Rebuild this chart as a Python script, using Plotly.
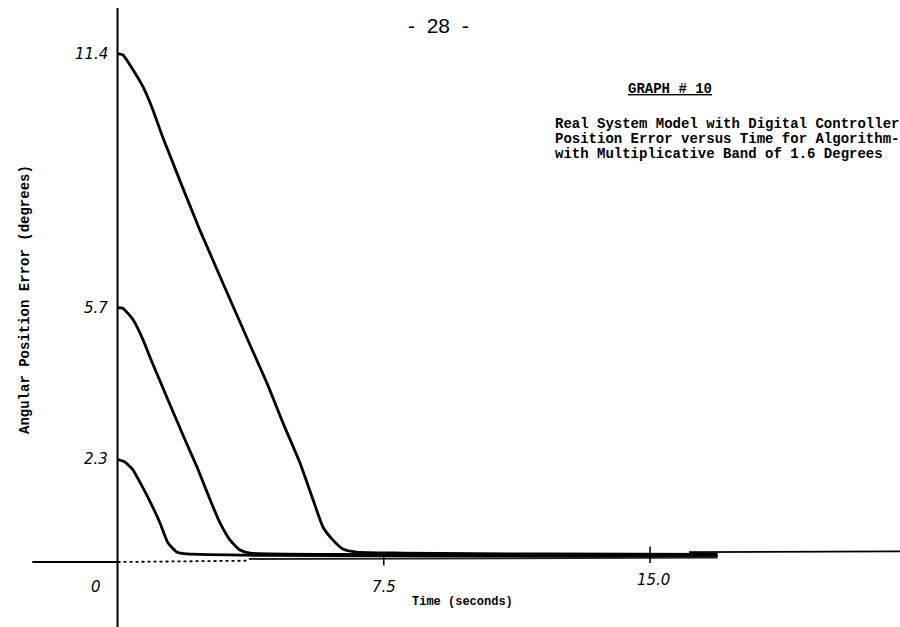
import plotly.graph_objects as go

# ---- data (time in seconds, error in degrees) ----
t_114 = [0.0, 0.15, 0.44, 0.72, 1.00, 1.28, 2.32, 3.73, 4.21, 4.66, 5.14, 5.51, 5.79, 6.07, 6.35, 6.73, 8.0, 12.0, 16.9]
e_114 = [11.4, 11.37, 11.03, 10.65, 10.13, 9.51, 7.44, 4.87, 4.01, 3.12, 2.22, 1.39, 0.78, 0.49, 0.29, 0.22, 0.20, 0.18, 0.17]

t_57 = [0.0, 0.15, 0.44, 0.72, 0.92, 1.90, 2.24, 2.61, 2.89, 3.17, 3.45, 3.73, 6.0, 10.0, 16.9]
e_57 = [5.7, 5.69, 5.43, 4.98, 4.58, 2.74, 2.13, 1.39, 0.87, 0.49, 0.27, 0.20, 0.17, 0.16, 0.15]

t_23 = [0.0, 0.21, 0.44, 0.63, 0.92, 1.20, 1.42, 1.68, 1.96, 4.0, 10.0, 16.9]
e_23 = [2.3, 2.24, 2.06, 1.79, 1.35, 0.87, 0.43, 0.22, 0.18, 0.15, 0.14, 0.13]

x_tick_vals = [0, 7.5, 15.0]
x_tick_text = ["0", "7.5", "15.0"]
y_tick_vals = [11.4, 5.7, 2.3]
y_tick_text = ["11.4", "5.7", "2.3"]

page_number = "-  28  -"
graph_title = "GRAPH # 10"
subtitle_lines = [
    "Real System Model with Digital Controller",
    "Position Error versus Time for Algorithm-",
    "with Multiplicative Band of 1.6 Degrees",
]
x_title = "Time (seconds)"
y_title = "Angular Position Error (degrees)"

# ---- figure ----
X_RANGE = [-3.31, 22.04]
Y_RANGE = [-1.457, 12.60]

fig = go.Figure()
for tt, ee in [(t_114, e_114), (t_57, e_57), (t_23, e_23)]:
    fig.add_trace(go.Scatter(
        x=tt, y=ee, mode="lines",
        line=dict(color="black", width=2.8, shape="spline", smoothing=0.5),
        showlegend=False, hoverinfo="skip",
    ))

shapes = []
# vertical axis
shapes.append(dict(type="line", xref="x", yref="y", x0=0, x1=0, y0=-1.5, y1=12.42,
                   line=dict(color="black", width=2)))
# horizontal axis: solid left part, dotted near origin, right continuation
shapes.append(dict(type="line", xref="x", yref="y", x0=-2.4, x1=0, y0=0, y1=0,
                   line=dict(color="black", width=2.2)))
shapes.append(dict(type="line", xref="x", yref="y", x0=0, x1=3.7, y0=0, y1=0.03,
                   line=dict(color="black", width=1.8, dash="dot")))
shapes.append(dict(type="line", xref="x", yref="y", x0=3.7, x1=16.9, y0=0.07, y1=0.1,
                   line=dict(color="#222", width=2)))
shapes.append(dict(type="line", xref="x", yref="y", x0=16.1, x1=22.1, y0=0.22, y1=0.24,
                   line=dict(color="black", width=1.8)))
# tick marks
shapes.append(dict(type="line", xref="x", yref="y", x0=7.5, x1=7.5, y0=0.12, y1=-0.08,
                   line=dict(color="black", width=1.5)))
shapes.append(dict(type="line", xref="x", yref="y", x0=15.0, x1=15.0, y0=0.35, y1=-0.02,
                   line=dict(color="black", width=1.5)))

annotations = []
hand = dict(family="DejaVu Sans", size=15, color="black")
for v, s in zip(y_tick_vals, y_tick_text):
    annotations.append(dict(x=-0.2, y=v, xref="x", yref="y", text="<i>" + s + "</i>",
                            showarrow=False, xanchor="right", yanchor="middle", font=hand))
x_label_offsets = [-0.6, 0.0, 0.1]
x_label_y = [-0.55, -0.55, -0.4]
for v, s, dx, yy in zip(x_tick_vals, x_tick_text, x_label_offsets, x_label_y):
    annotations.append(dict(x=v + dx, y=yy, xref="x", yref="y", text="<i>" + s + "</i>",
                            showarrow=False, xanchor="center", yanchor="middle", font=hand))

mono14 = dict(family="Liberation Mono", size=14, color="black")
mono_small = dict(family="Liberation Mono", size=12, color="black")
annotations.append(dict(x=438, y=26, xref="paper", yref="paper", text=page_number,
                        showarrow=False, font=dict(family="Liberation Sans", size=21, color="black")))
annotations.append(dict(x=670, y=89, xref="paper", yref="paper", text="<b><u>" + graph_title + "</u></b>",
                        showarrow=False, font=mono14))
for i, line in enumerate(subtitle_lines):
    annotations.append(dict(x=553, y=124 + i * 15, xref="paper", yref="paper", text="<b>" + line + "</b>",
                            showarrow=False, xanchor="left", yanchor="middle", font=mono14))
annotations.append(dict(x=462, y=602, xref="paper", yref="paper", text="<b>" + x_title + "</b>",
                        showarrow=False, font=mono_small))
annotations.append(dict(x=25, y=300, xref="paper", yref="paper", text="<b>" + y_title + "</b>",
                        showarrow=False, textangle=-90, font=mono14))

# convert pixel-based paper annotations to paper fractions
W, H = 900, 627
for a in annotations:
    if a["xref"] == "paper":
        a["x"] = a["x"] / W
        a["y"] = 1 - a["y"] / H
        a.setdefault("xanchor", "center")
        a.setdefault("yanchor", "middle")

fig.update_layout(
    width=W, height=H,
    margin=dict(l=0, r=0, t=0, b=0),
    paper_bgcolor="white", plot_bgcolor="white",
    xaxis=dict(range=X_RANGE, visible=False, fixedrange=True),
    yaxis=dict(range=Y_RANGE, visible=False, fixedrange=True),
    shapes=shapes, annotations=annotations,
)

fig.write_html("out.html")
